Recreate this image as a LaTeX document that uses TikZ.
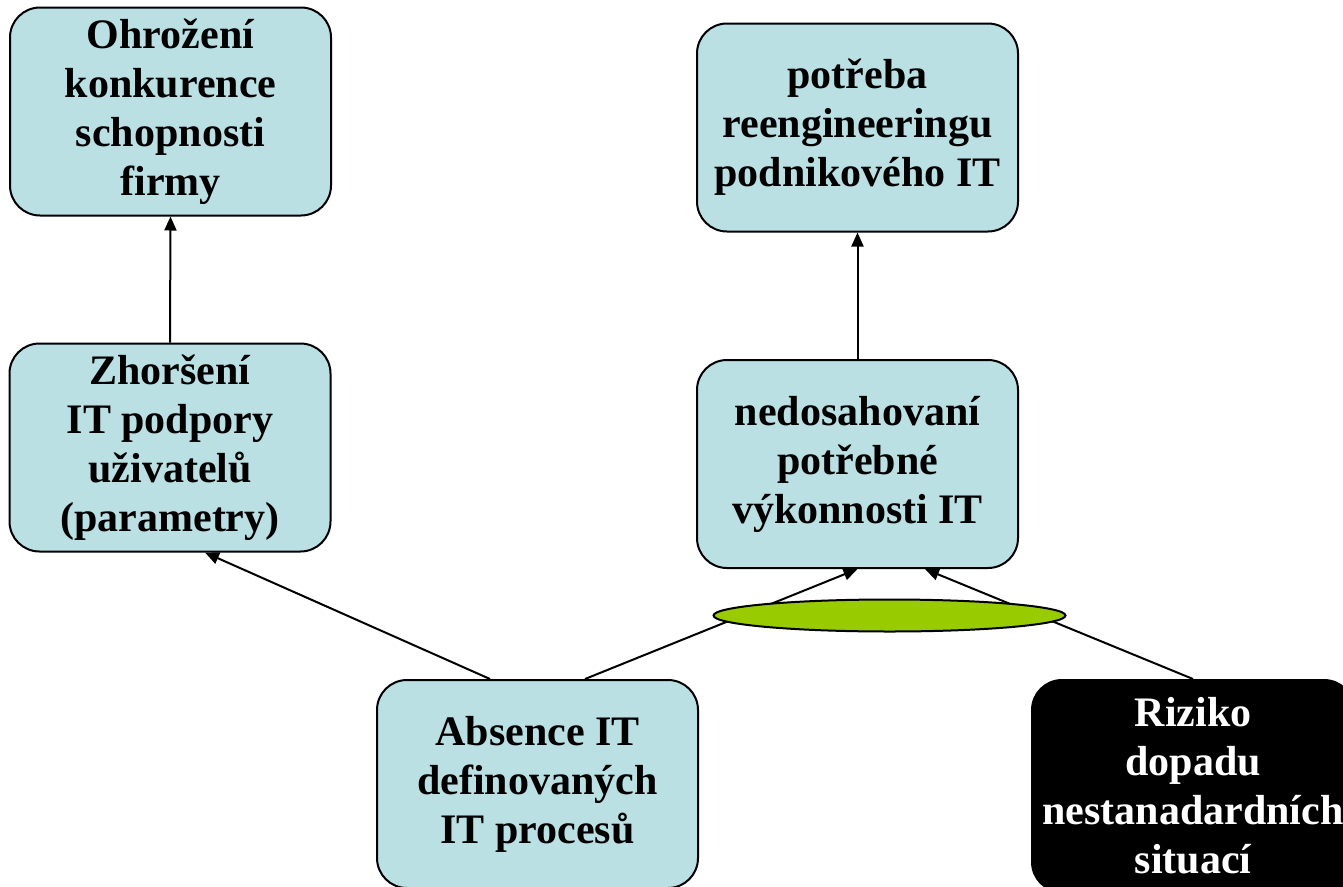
\documentclass[tikz,border=0pt]{standalone}
\usepackage{fontspec}
\setmainfont{Liberation Serif}
\usetikzlibrary{arrows.meta,shapes.geometric}
\definecolor{boxfill}{RGB}{187,224,227}
\definecolor{ovalgreen}{RGB}{153,204,0}
\tikzset{
  box/.style={draw=black, line width=2pt, fill=boxfill, rounded corners=30pt,
    minimum width=321pt, minimum height=208pt, align=center, inner sep=0pt,
    font=\fontsize{42}{49}\selectfont\bfseries},
  darkbox/.style={box, fill=black, text=white},
  arr/.style={line width=2pt, -{Triangle[length=14pt,width=12pt]}},
}
\begin{document}
\begin{tikzpicture}[x=1pt,y=-1pt]
\useasboundingbox (0,0) rectangle (1343,886);

% boxes
\node[box] (oh) at (170.5,111.5) {Ohrožení\\konkurence\\schopnosti\\firmy};
\node[box] (po) at (857.5,127.5) {potřeba\\reengineeringu\\podnikového IT};
\node[box] (zh) at (170,447.5) {Zhoršení\\IT podpory\\uživatelů\\(parametry)};
\node[box] (ne) at (857.5,464) {nedosahovaní\\potřebné\\výkonnosti IT};
\node[box] (ab) at (537.5,784) {Absence IT\\definovaných\\IT procesů};
\node[darkbox, minimum width=322pt, minimum height=212pt] (ri) at (1193,786)
  {Riziko\\dopadu\\nestanadardních\\situací};

% connectors
\draw[arr] (zh.north) -- (oh.south);
\draw[arr] (ne.north) -- (po.south);
\draw[arr] ([xshift=-47.5pt]ab.north) -- ([xshift=35pt]zh.south);
\draw[arr] ([xshift=47.5pt]ab.north) -- (ne.south);
\draw[arr] (ri.north) -- ([xshift=67.5pt]ne.south);

% green oval lying over the joined arrows
\node[ellipse, draw=black, line width=2pt, fill=ovalgreen,
  minimum width=352pt, minimum height=32pt, inner sep=0pt] (ov) at (889.5,615.5) {};
\end{tikzpicture}
\end{document}
